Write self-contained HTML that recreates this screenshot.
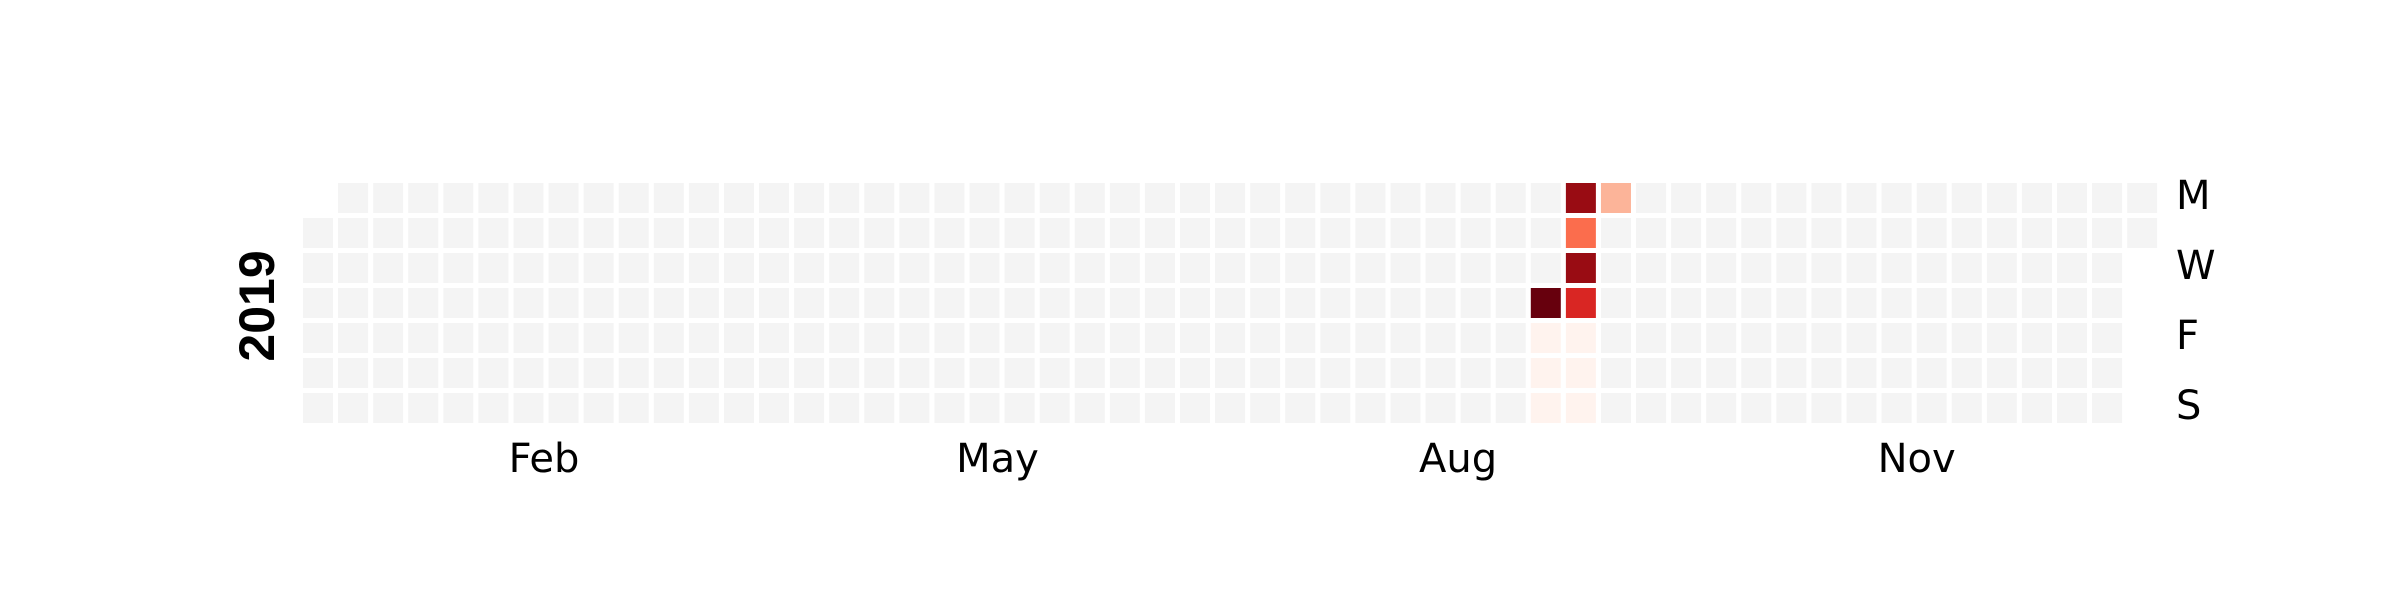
<!DOCTYPE html>
<html><head><meta charset="utf-8">
<style>html,body{margin:0;padding:0;background:#fff;}svg{display:block;}</style>
</head><body>
<svg id="chart" width="2400" height="600" xmlns="http://www.w3.org/2000/svg">
<rect width="2400" height="600" fill="#fff"/>
<text transform="translate(274,306) rotate(-90)" text-anchor="middle" font-family="Liberation Sans, sans-serif" font-weight="bold" font-size="50">2019</text>
<g id="cells"></g>
<g id="labels"></g>
</svg>
<script>
const year = 2019;
const eventDates = ["2019-09-05","2019-09-06","2019-09-07","2019-09-08","2019-09-09","2019-09-10","2019-09-11","2019-09-12","2019-09-13","2019-09-14","2019-09-15","2019-09-16"];
const eventValues = [10, 0.1, 0.1, 0.1, 9.0, 4.9, 9.0, 7.0, 0.1, 0.1, 0.1, 2.7];
const monthTicks = [2, 5, 8, 11];
const monthNames = ["Jan","Feb","Mar","Apr","May","Jun","Jul","Aug","Sep","Oct","Nov","Dec"];
const dayLabels = ["M","","W","","F","","S"];
const vmax = 10;

const NS = "http://www.w3.org/2000/svg";
const x0 = 303, y0 = 183, pitchX = 35.08, pitchY = 35, cell = 30;
const reds = ["#fff5f0","#fee0d2","#fcbba1","#fc9272","#fb6a4a","#ef3b2c","#cb181d","#a50f15","#67000d"];
function hex(c){return [1,3,5].map(i=>parseInt(c.substr(i,2),16));}
function cmap(t){t=Math.max(0,Math.min(1,t));const p=t*(reds.length-1);const i=Math.min(Math.floor(p),reds.length-2);const f=p-i;
  const a=hex(reds[i]),b=hex(reds[i+1]);return "rgb("+a.map((v,k)=>Math.round(v+(b[k]-v)*f)).join(",")+")";}
const jan1 = Date.UTC(year,0,1);
const startDow = (new Date(jan1).getUTCDay()+6)%7;
function pos(d){const off=Math.round((d-jan1)/86400000);const idx=off+startDow;return {col:Math.floor(idx/7),row:idx%7};}
function xs(col){return x0+col*pitchX;}
function ys(row){return y0+row*pitchY;}
const valMap = {};
eventDates.forEach((d,i)=>{valMap[d]=eventValues[i];});
const cg = document.getElementById("cells");
const monthCols = {};
for(let t=jan1; new Date(t).getUTCFullYear()===year; t+=86400000){
  const dt=new Date(t);const key=dt.toISOString().slice(0,10);const p=pos(t);
  const m=dt.getUTCMonth();(monthCols[m]=monthCols[m]||[]).push(p.col);
  const r=document.createElementNS(NS,"rect");
  r.setAttribute("x",xs(p.col));r.setAttribute("y",ys(p.row));
  r.setAttribute("width",cell);r.setAttribute("height",cell);
  r.setAttribute("fill", key in valMap ? cmap(valMap[key]/vmax) : "#f4f4f4");
  
  
  cg.appendChild(r);
}
const lg = document.getElementById("labels");
monthTicks.forEach(m=>{
  const cols=monthCols[m-1];const mean=cols.reduce((a,b)=>a+b,0)/cols.length;
  const t=document.createElementNS(NS,"text");
  t.setAttribute("x",xs(mean)+cell/2+13);t.setAttribute("y",472);
  t.setAttribute("text-anchor","middle");t.setAttribute("font-family","DejaVu Sans, sans-serif");t.setAttribute("font-size","40");
  t.textContent=monthNames[m-1];
  
  
  lg.appendChild(t);
});
dayLabels.forEach((d,i)=>{
  if(!d) return;
  const t=document.createElementNS(NS,"text");
  t.setAttribute("x",2176);t.setAttribute("y",ys(i)+cell/2+11);
  t.setAttribute("font-family","DejaVu Sans, sans-serif");t.setAttribute("font-size","40");
  t.textContent=d;
  
  
  lg.appendChild(t);
});
</script>
</body></html>
